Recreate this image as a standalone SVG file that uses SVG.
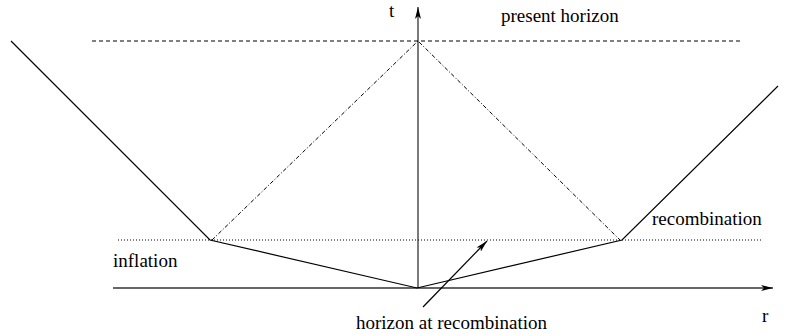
<svg xmlns="http://www.w3.org/2000/svg" width="804" height="334" viewBox="0 0 804 334">
<style>
  text { font-family: "Liberation Serif", "Times New Roman", serif; font-size: 19px; fill: #000; }
  .axis { stroke: #333; stroke-width: 1.3; fill: none; }
  .solid { stroke: #000; stroke-width: 1.2; fill: none; }
  .dash { stroke: #000; stroke-width: 1; stroke-dasharray: 4 3; fill: none; }
  .dot { stroke: #000; stroke-width: 1; stroke-dasharray: 1 2; fill: none; }
  .dashdot { stroke: #000; stroke-width: 1; stroke-dasharray: 4 2 1 2; fill: none; }
</style>
<defs>
  <marker id="ah" viewBox="0 0 12 6" refX="12" refY="3" markerWidth="12" markerHeight="6" markerUnits="userSpaceOnUse" orient="auto">
    <path d="M0,0 L12,3 L0,6 L3,3 Z" fill="#000"/>
  </marker>
</defs>
<rect width="804" height="334" fill="#fff"/>
<g id="connectors">
  <line class="axis" x1="113" y1="288" x2="773" y2="288" marker-end="url(#ah)"/>
  <line class="axis" x1="418" y1="288" x2="418" y2="7" marker-end="url(#ah)"/>
  <line class="dash" x1="92" y1="41" x2="742" y2="41"/>
  <line class="dot" x1="118" y1="240" x2="762" y2="240"/>
  <polyline class="solid" points="11,41 210,240 417,288 622,240 778,86"/>
  <polyline class="dashdot" points="212,240 418,41 620,240"/>
  <line class="solid" x1="423" y1="307" x2="487" y2="241" marker-end="url(#ah)"/>
</g>
<g id="label-t"><text x="389" y="17">t</text></g>
<g id="label-r"><text x="762" y="322">r</text></g>
<g id="label-present-horizon"><text x="501" y="22">present horizon</text></g>
<g id="label-recombination"><text x="652" y="225">recombination</text></g>
<g id="label-inflation"><text x="113" y="267">inflation</text></g>
<g id="label-horizon-at-recombination"><text x="356" y="329">horizon at recombination</text></g>
</svg>
